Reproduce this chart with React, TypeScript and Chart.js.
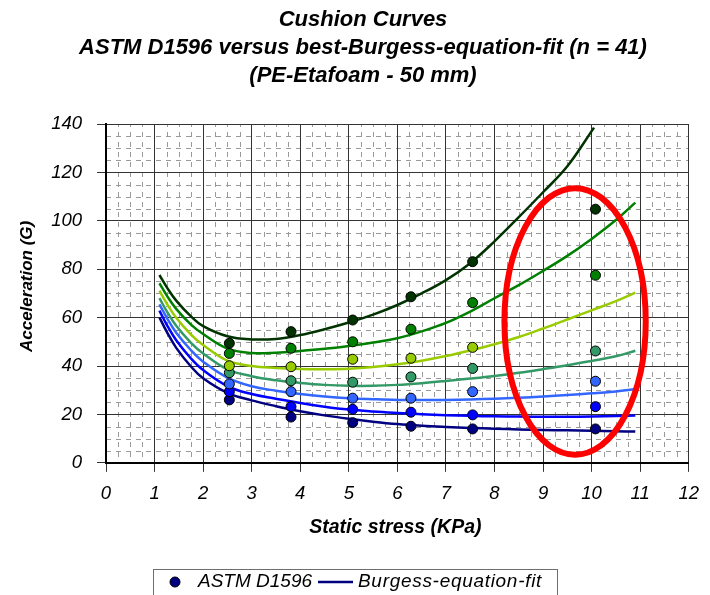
import React, { useEffect, useRef } from "react";
import { Chart, registerables } from "chart.js";

Chart.register(...registerables);

// ---------- text ----------
const titleLines = [
  "Cushion Curves",
  "ASTM D1596 versus best-Burgess-equation-fit (n = 41)",
  "(PE-Etafoam - 50 mm)",
];
const xAxisTitle = "Static stress (KPa)";
const yAxisTitle = "Acceleration (G)";
const legendPointLabel = "ASTM D1596";
const legendLineLabel = "Burgess-equation-fit";

// ---------- axes ----------
const xMin = 0;
const xMax = 12;
const xStep = 1;
const yMin = 0;
const yMax = 140;
const yStep = 20;
const xMinorStep = 0.25;
const yMinorStep = 5;

// ---------- colours (darkest-green to navy) ----------
const seriesColors = ["#003300", "#008000", "#99cc00", "#339966", "#3366ff", "#0000ff", "#000080"];

// ---------- ASTM D1596 test points ----------
const testStress = [2.54, 3.81, 5.08, 6.28, 7.55, 10.08];
const testDarkGreen = [49.4, 54.2, 59.0, 68.6, 83.1, 104.8];
const testGreen = [45.2, 47.3, 50.0, 55.2, 66.2, 77.5];
const testYellowGreen = [40.1, 39.7, 42.8, 43.2, 47.7, null];
const testTeal = [37.2, 33.9, 33.3, 35.5, 39.0, 46.2];
const testLightBlue = [32.6, 29.4, 26.7, 26.7, 29.4, 33.7];
const testBlue = [29.4, 23.2, 22.1, 20.9, 19.8, 23.2];
const testNavy = [26.0, 18.9, 16.6, 15.1, 14.0, 14.0];

// ---------- Burgess fit curves ----------
const fitStressTop = [1.1, 1.25, 1.45, 1.75, 2, 2.5, 3, 3.5, 4, 4.5, 5, 5.5, 6, 6.5, 7, 7.5, 8, 8.5, 9, 9.5, 10.05];
const fitDarkGreen = [77.6, 72.6, 66.9, 60.5, 56.5, 52.3, 51.0, 51.2, 52.8, 55.2, 58.0, 61.2, 65.2, 70.0, 75.5, 82.5, 91.5, 101.5, 111.8, 122.5, 138.5];

const fitStress = [1.1, 1.25, 1.45, 1.75, 2, 2.5, 3, 3.5, 4, 4.5, 5, 5.5, 6, 6.5, 7, 7.5, 8, 8.5, 9, 9.5, 10, 10.5, 10.9];
const fitGreen = [74.2, 69.2, 63.5, 57.1, 53.2, 47.2, 45.4, 45.5, 46.2, 47.1, 48.3, 49.7, 51.5, 54.3, 57.8, 62.5, 68.0, 73.4, 79.3, 85.5, 92.5, 100.3, 107.5];
const fitYellowGreen = [71.1, 65.9, 59.8, 53.0, 48.7, 42.2, 40.0, 39.2, 38.8, 38.7, 38.9, 39.6, 40.7, 42.2, 44.1, 46.4, 49.0, 52.0, 55.5, 59.2, 63.0, 66.8, 70.3];
const fitTeal = [68.0, 62.7, 56.5, 49.6, 45.2, 38.6, 35.8, 34.1, 33.0, 32.2, 31.8, 31.8, 32.2, 32.9, 33.8, 34.8, 35.9, 37.2, 38.7, 40.3, 42.1, 44.0, 46.3];
const fitLightBlue = [65.5, 60.0, 53.6, 46.5, 41.8, 35.2, 31.6, 29.8, 28.4, 27.4, 26.7, 26.3, 26.0, 25.9, 26.0, 26.2, 26.5, 26.9, 27.4, 28.0, 28.7, 29.5, 30.4];
const fitBlue = [62.9, 57.1, 50.5, 43.1, 38.3, 31.7, 28.4, 26.5, 24.7, 23.2, 22.0, 21.2, 20.6, 20.1, 19.7, 19.4, 19.2, 19.1, 19.0, 19.0, 19.1, 19.3, 19.5];
const fitNavy = [60.1, 54.2, 47.4, 39.8, 34.9, 28.9, 25.8, 23.4, 21.3, 19.6, 18.2, 17.0, 16.0, 15.3, 14.8, 14.4, 14.1, 13.8, 13.6, 13.4, 13.2, 13.0, 12.9];

// ---------- red highlight ellipse (data units) ----------
const ellipseCenterX = 9.66;
const ellipseCenterY = 58.4;
const ellipseRadiusX = 1.455;
const ellipseRadiusY = 55.1;

const FONT = "'Liberation Sans', Arial, Helvetica, sans-serif";

function pairs(xs: number[], ys: (number | null)[]) {
  const out: { x: number; y: number }[] = [];
  xs.forEach((x, i) => {
    const y = ys[i];
    if (y !== null && y !== undefined) out.push({ x, y });
  });
  return out;
}

const decorPlugin = {
  id: "decor",
  beforeDraw(chart: any) {
    const { ctx, chartArea } = chart;
    const xs = chart.scales.x;
    const ys = chart.scales.y;
    ctx.save();
    ctx.strokeStyle = "#9a9a9a";
    ctx.lineWidth = 1;
    ctx.setLineDash([5, 5]);
    for (let v = xMin + xMinorStep; v < xMax; v += xMinorStep) {
      if (Math.abs(v - Math.round(v)) < 1e-6) continue;
      const px = Math.round(xs.getPixelForValue(v)) + 0.5;
      ctx.beginPath();
      ctx.lineDashOffset = 2;
      ctx.moveTo(px, chartArea.top);
      ctx.lineTo(px, chartArea.bottom);
      ctx.stroke();
    }
    for (let v = yMin + yMinorStep; v < yMax; v += yMinorStep) {
      if (v % yStep === 0) continue;
      const py = Math.round(ys.getPixelForValue(v)) + 0.5;
      ctx.beginPath();
      ctx.lineDashOffset = 0;
      ctx.moveTo(chartArea.left, py);
      ctx.lineTo(chartArea.right, py);
      ctx.stroke();
    }
    ctx.restore();
  },
  afterDatasetsDraw(chart: any) {
    const { ctx } = chart;
    const xs = chart.scales.x;
    const ys = chart.scales.y;
    const cx = xs.getPixelForValue(ellipseCenterX);
    const cy = ys.getPixelForValue(ellipseCenterY);
    const rx = Math.abs(xs.getPixelForValue(ellipseCenterX + ellipseRadiusX) - cx);
    const ry = Math.abs(ys.getPixelForValue(ellipseCenterY + ellipseRadiusY) - cy);
    ctx.save();
    ctx.strokeStyle = "#ff0000";
    ctx.lineWidth = 6;
    ctx.beginPath();
    ctx.ellipse(cx, cy, rx, ry, 0, 0, Math.PI * 2);
    ctx.stroke();
    ctx.restore();
  },
  afterDraw(chart: any) {
    const { ctx, chartArea } = chart;
    ctx.save();
    ctx.fillStyle = "#000";
    // title
    ctx.font = `italic bold 22px ${FONT}`;
    ctx.textAlign = "center";
    ctx.textBaseline = "middle";
    titleLines.forEach((t, i) => ctx.fillText(t, 363, 20 + i * 28));
    // x axis title
    ctx.font = `italic bold 19.5px ${FONT}`;
    ctx.fillText(xAxisTitle, (chartArea.left + chartArea.right) / 2 - 2, 528);
    // y axis title
    ctx.save();
    ctx.translate(27, (chartArea.top + chartArea.bottom) / 2 - 7);
    ctx.rotate(-Math.PI / 2);
    ctx.font = `italic bold 17px ${FONT}`;
    ctx.fillText(yAxisTitle, 0, 0);
    ctx.restore();
    // legend box
    ctx.strokeStyle = "#6e6e6e";
    ctx.lineWidth = 1;
    ctx.strokeRect(153.5, 569.5, 404, 40);
    const ly = 582;
    ctx.beginPath();
    ctx.arc(175, ly, 5, 0, Math.PI * 2);
    ctx.fillStyle = seriesColors[6];
    ctx.fill();
    ctx.strokeStyle = "#000";
    ctx.stroke();
    ctx.strokeStyle = seriesColors[6];
    ctx.lineWidth = 2.5;
    ctx.beginPath();
    ctx.moveTo(318, ly);
    ctx.lineTo(353, ly);
    ctx.stroke();
    ctx.fillStyle = "#000";
    ctx.font = `italic 19px ${FONT}`;
    ctx.textAlign = "left";
    ctx.fillText(legendPointLabel, 198, ly);
    (ctx as any).letterSpacing = "0.7px";
    ctx.fillText(legendLineLabel, 358, ly);
    (ctx as any).letterSpacing = "0px";
    ctx.restore();
  },
};

export default function App() {
  const canvasRef = useRef<HTMLCanvasElement | null>(null);

  useEffect(() => {
    const canvas = canvasRef.current;
    if (!canvas) return;

    const testSeries = [testDarkGreen, testGreen, testYellowGreen, testTeal, testLightBlue, testBlue, testNavy];
    const fitSeries = [fitDarkGreen, fitGreen, fitYellowGreen, fitTeal, fitLightBlue, fitBlue, fitNavy];

    const lineSets = fitSeries.map((ys, i) => ({
      type: "line" as const,
      label: legendLineLabel,
      data: pairs(i === 0 ? fitStressTop : fitStress, ys),
      borderColor: seriesColors[i],
      backgroundColor: seriesColors[i],
      borderWidth: 2.5,
      pointRadius: 0,
      tension: 0.4,
      fill: false,
      order: 2,
    }));
    const pointSets = testSeries.map((ys, i) => ({
      type: "scatter" as const,
      label: legendPointLabel,
      data: pairs(testStress, ys),
      backgroundColor: seriesColors[i],
      borderColor: "#000",
      borderWidth: 1,
      pointRadius: 5,
      pointHoverRadius: 5,
      showLine: false,
      order: 1,
    }));

    const chart = new Chart(canvas, {
      type: "scatter",
      data: { datasets: [...lineSets, ...pointSets] as any },
      options: {
        animation: false,
        responsive: false,
        devicePixelRatio: 1,
        events: [],
        layout: { padding: { top: 124, left: 0, right: 10.6, bottom: 0 } },
        plugins: {
          legend: { display: false },
          title: { display: false },
          tooltip: { enabled: false },
        },
        scales: {
          x: {
            type: "linear",
            min: xMin,
            max: xMax,
            afterFit: (s: any) => {
              s.height = 595 - 462.8;
            },
            ticks: {
              stepSize: xStep,
              color: "#000",
              padding: 11,
              maxRotation: 0,
              font: { family: FONT, size: 18.5, style: "italic" },
            },
            grid: { color: "#333", lineWidth: 1, tickLength: 9, drawTicks: true },
            border: { color: "#000", width: 2 },
          },
          y: {
            type: "linear",
            min: yMin,
            max: yMax,
            afterFit: (s: any) => {
              s.width = 106;
            },
            ticks: {
              stepSize: yStep,
              color: "#000",
              padding: 15,
              font: { family: FONT, size: 18.5, style: "italic" },
            },
            grid: { color: "#333", lineWidth: 1, tickLength: 9, drawTicks: true },
            border: { color: "#000", width: 2 },
          },
        },
      } as any,
      plugins: [decorPlugin],
    });

    return () => chart.destroy();
  }, []);

  return (
    <div style={{ position: "fixed", left: 0, top: 0, width: 710, height: 595, background: "#fff" }}>
      <canvas ref={canvasRef} width={710} height={595} style={{ display: "block" }} />
    </div>
  );
}
